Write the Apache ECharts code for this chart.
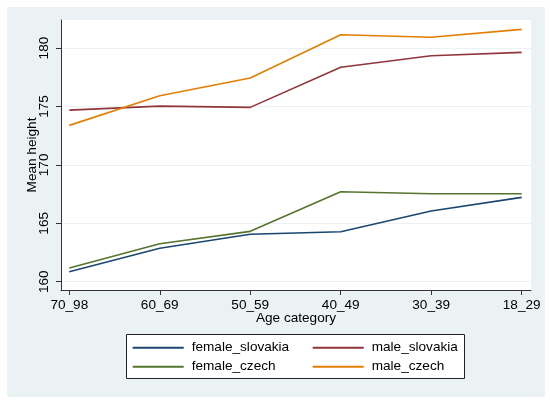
<!DOCTYPE html>
<html>
<head>
<meta charset="utf-8">
<script src="https://cdn.jsdelivr.net/npm/echarts@6/dist/echarts.min.js"></script>
<style>
  html, body { margin: 0; padding: 0; background: #fff; }
  #panel { position: absolute; left: 7px; top: 7px; width: 538px; height: 390px; background: #eaf2f3; }
  #chart { position: absolute; left: 0; top: 0; width: 550px; height: 403px; }
</style>
</head>
<body>
<div id="panel"></div>
<div id="chart"></div>
<script>
const categories = ['70_98', '60_69', '50_59', '40_49', '30_39', '18_29'];
const femaleSlovakia = [160.86, 162.86, 164.06, 164.28, 166.05, 167.22];
const maleSlovakia = [174.69, 175.03, 174.92, 178.35, 179.34, 179.63];
const femaleCzech = [161.17, 163.25, 164.31, 167.70, 167.53, 167.53];
const maleCzech = [173.38, 175.92, 177.43, 181.14, 180.92, 181.60];
const yTicks = [160, 165, 170, 175, 180];

const font = '"Liberation Sans", Arial, sans-serif';
const firstColumn = ['female_slovakia', 'female_czech'];

function line(name, values, color) {
  return {
    name: name,
    type: 'line',
    data: categories.map((c, i) => [i, values[i]]),
    symbol: 'none',
    lineStyle: { color: color, width: 1.6 },
    itemStyle: { color: color },
    animation: false
  };
}

const chart = echarts.init(document.getElementById('chart'));
chart.setOption({
  backgroundColor: 'transparent',
  animation: false,
  textStyle: { fontFamily: font },
  grid: {
    left: 61, right: 19, top: 20, bottom: 113,
    show: true, backgroundColor: '#fff', borderWidth: 0
  },
  graphic: [{
    type: 'rect',
    shape: { x: 126.5, y: 334.5, width: 338, height: 44 },
    style: { fill: '#fff', stroke: '#222', lineWidth: 1 },
    silent: true
  }],
  legend: {
    left: 131.7, top: 340.7, width: 330, padding: 0,
    itemWidth: 51, itemHeight: 14, itemGap: 5,
    itemStyle: { opacity: 0, borderWidth: 0 },
    formatter: (name) => (firstColumn.includes(name) ? '{a|' + name + '}' : '{b|' + name + '}'),
    textStyle: {
      fontFamily: font, fontSize: 13.6, color: '#000', padding: [0, 0, 0, 3],
      rich: {
        a: { width: 115, fontFamily: font, fontSize: 13.6, lineHeight: 14 },
        b: { fontFamily: font, fontSize: 13.6, lineHeight: 14 }
      }
    },
    data: ['female_slovakia', 'male_slovakia', 'female_czech', 'male_czech']
  },
  xAxis: {
    type: 'value',
    min: -0.0917, max: 5.103,
    name: 'Age category', nameLocation: 'middle', nameGap: 21, nameMoveOverlap: false,
    nameTextStyle: { fontFamily: font, fontSize: 13.6, color: '#000' },
    axisLine: { onZero: false, lineStyle: { color: '#333', width: 1 } },
    axisTick: { customValues: [0, 1, 2, 3, 4, 5], length: 5, lineStyle: { color: '#333' } },
    axisLabel: {
      customValues: [0, 1, 2, 3, 4, 5],
      formatter: (v) => categories[Math.round(v)],
      margin: 8, fontFamily: font, fontSize: 13.6, color: '#000'
    },
    splitLine: { show: false }
  },
  yAxis: {
    type: 'value',
    min: 159.29, max: 182.4,
    name: 'Mean height', nameLocation: 'middle', nameGap: 22, nameMoveOverlap: false,
    nameTextStyle: { fontFamily: font, fontSize: 13.6, color: '#000' },
    axisLine: { show: true, onZero: false, lineStyle: { color: '#333', width: 1 } },
    axisTick: { show: true, customValues: yTicks, length: 5, lineStyle: { color: '#333' } },
    axisLabel: {
      customValues: yTicks, rotate: 90, margin: 10,
      fontFamily: font, fontSize: 13.6, color: '#000'
    },
    splitLine: { show: true, lineStyle: { color: '#eaf2f3', width: 1 } }
  },
  series: [
    line('female_slovakia', femaleSlovakia, '#1a476f'),
    line('male_slovakia', maleSlovakia, '#90353b'),
    line('female_czech', femaleCzech, '#55752f'),
    line('male_czech', maleCzech, '#e37e00')
  ]
});
</script>
</body>
</html>
